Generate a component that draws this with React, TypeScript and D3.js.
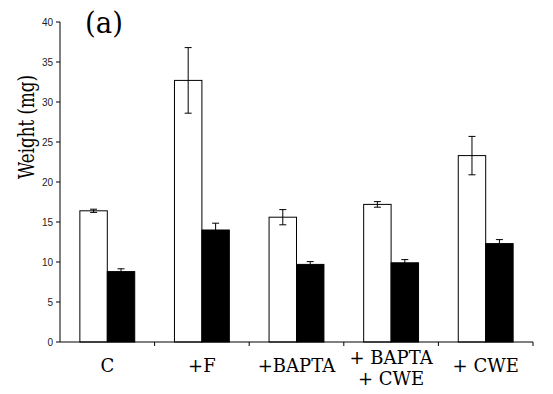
import React from "react";
import * as d3 from "d3";

// data
const categories = ["C", "+F", "+BAPTA", "+ BAPTA\n+ CWE", "+ CWE"];
const whiteMeans = [16.4, 32.7, 15.6, 17.2, 23.3];
const whiteErrors = [0.2, 4.1, 0.95, 0.35, 2.4];
const blackMeans = [8.8, 14.0, 9.7, 9.9, 12.3];
const blackErrors = [0.35, 0.85, 0.35, 0.4, 0.5];
const yTicks = [0, 5, 10, 15, 20, 25, 30, 35, 40];

const width = 553;
const height = 394;
const margin = { top: 22, right: 20, bottom: 52, left: 60 };
// only DejaVu Serif is available as a serif face; squeeze it a bit to look like Times
const serif = "DejaVu Serif";

const App = () => {
  const x = d3
    .scaleBand<string>()
    .domain(categories)
    .range([margin.left, width - margin.right])
    .paddingInner(0.42)
    .paddingOuter(0.21);

  const y = d3
    .scaleLinear()
    .domain([0, 40])
    .range([height - margin.bottom, margin.top]);

  const sub = d3
    .scaleBand<string>()
    .domain(["white", "black"])
    .range([0, x.bandwidth()]);

  const step = x.step();
  const y0 = y(0);

  const series = [
    { key: "white", means: whiteMeans, errs: whiteErrors, fill: "#fff" },
    { key: "black", means: blackMeans, errs: blackErrors, fill: "#000" },
  ];

  return (
    <div style={{ margin: -8 }}>
      <svg width={width} height={height} style={{ display: "block", background: "#fff" }}>
        {/* bars */}
        {series.map((s) =>
          categories.map((c, i) => {
            const bx = (x(c) as number) + (sub(s.key) as number);
            const bw = sub.bandwidth();
            const top = y(s.means[i]);
            const cx = bx + bw / 2;
            return (
              <g key={s.key + c}>
                <rect
                  x={bx}
                  y={top}
                  width={bw}
                  height={y0 - top}
                  fill={s.fill}
                  stroke="#000"
                  strokeWidth={1}
                />
                <line
                  x1={cx}
                  x2={cx}
                  y1={y(s.means[i] + s.errs[i])}
                  y2={y(s.means[i] - s.errs[i])}
                  stroke="#000"
                  strokeWidth={1}
                />
                {[s.means[i] + s.errs[i], s.means[i] - s.errs[i]].map((v, k) => (
                  <line
                    key={k}
                    x1={cx - 3.5}
                    x2={cx + 3.5}
                    y1={y(v)}
                    y2={y(v)}
                    stroke="#000"
                    strokeWidth={1}
                  />
                ))}
              </g>
            );
          })
        )}

        {/* y axis */}
        <line x1={margin.left} x2={margin.left} y1={y(40)} y2={y0} stroke="#000" />
        {yTicks.map((t) => (
          <g key={t}>
            <line x1={margin.left - 4} x2={margin.left} y1={y(t)} y2={y(t)} stroke="#000" />
            <text
              x={margin.left - 7}
              y={y(t)}
              dy="0.35em"
              textAnchor="end"
              fontFamily="Liberation Sans"
              fontSize={10}
              fill="#222"
            >
              {t}
            </text>
          </g>
        ))}

        {/* x axis */}
        <line x1={margin.left} x2={width - margin.right} y1={y0} y2={y0} stroke="#000" />
        {categories.map((c) => {
          const edge = (x(c) as number) - step * 0.21 + step;
          return <line key={c} x1={edge} x2={edge} y1={y0} y2={y0 + 4} stroke="#000" />;
        })}
        {categories.map((c) => {
          const lines = c.split("\n");
          const cx = (x(c) as number) + x.bandwidth() / 2;
          const base = lines.length > 1 ? 364 : 372;
          return (
            <text
              key={c}
              transform={`translate(${cx},${base})`}
              textAnchor="middle"
              fontFamily={serif}
              fontSize={18}
              fill="#000"
            >
              {lines.map((l, k) => (
                <tspan key={k} x={0} dy={k === 0 ? 0 : 21}>
                  {l}
                </tspan>
              ))}
            </text>
          );
        })}

        {/* titles */}
        <text
          transform={`translate(34,127) rotate(-90) scale(0.76,1)`}
          textAnchor="middle"
          fontFamily={serif}
          fontSize={22}
          fill="#000"
        >
          Weight (mg)
        </text>
        <text
          transform="translate(85,33) scale(0.92,1)"
          fontFamily={serif}
          fontSize={30}
          fill="#000"
        >
          (a)
        </text>
      </svg>
    </div>
  );
};

export default App;
